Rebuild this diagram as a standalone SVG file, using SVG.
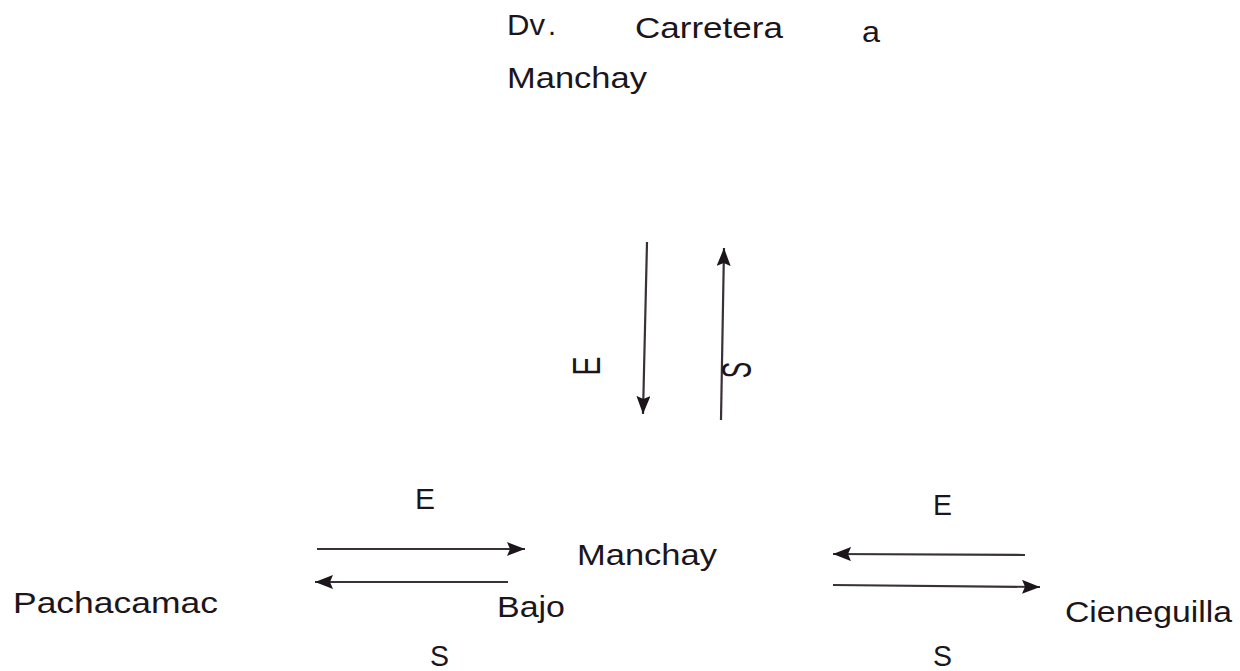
<svg xmlns="http://www.w3.org/2000/svg" width="1240" height="671" viewBox="0 0 1240 671">
<style>
  text { font-family: "Liberation Sans", Arial, sans-serif; font-size: 29px; fill: #1c161c; }
  .ln { stroke: #3a3038; stroke-width: 2.2; fill: none; }
</style>
<defs>
  <marker id="ah" viewBox="0 0 18 14" refX="18" refY="7" markerWidth="18" markerHeight="14" markerUnits="userSpaceOnUse" orient="auto">
    <path d="M0,0 L18,7 L0,14 L3,7 z" fill="#1c161c"/>
  </marker>
</defs>
<rect width="1240" height="671" fill="#ffffff"/>

<g id="node-dv">
  <text x="507" y="35" textLength="38" lengthAdjust="spacingAndGlyphs">Dv</text>
  <text x="548" y="35" font-size="18" fill="#6a6468">.</text>
  <text x="635" y="38" textLength="148" lengthAdjust="spacingAndGlyphs">Carretera</text>
  <text x="862" y="42" textLength="18" lengthAdjust="spacingAndGlyphs">a</text>
  <text x="507" y="88" textLength="140" lengthAdjust="spacingAndGlyphs">Manchay</text>
</g>

<g id="node-manchay-bajo">
  <text x="577" y="565" textLength="140" lengthAdjust="spacingAndGlyphs">Manchay</text>
  <text x="497" y="617" textLength="68" lengthAdjust="spacingAndGlyphs">Bajo</text>
</g>

<g id="node-pachacamac">
  <text x="13" y="613" textLength="205" lengthAdjust="spacingAndGlyphs">Pachacamac</text>
</g>

<g id="node-cieneguilla">
  <text x="1065" y="622" textLength="167" lengthAdjust="spacingAndGlyphs">Cieneguilla</text>
</g>

<g id="connectors">
  <line class="ln" x1="647" y1="242" x2="643" y2="414" marker-end="url(#ah)"/>
  <line class="ln" x1="721" y1="420" x2="724" y2="248" marker-end="url(#ah)"/>
  <line class="ln" x1="317" y1="549" x2="525" y2="549" marker-end="url(#ah)"/>
  <line class="ln" x1="508" y1="582" x2="315" y2="582" marker-end="url(#ah)"/>
  <line class="ln" x1="1025" y1="555" x2="833" y2="554" marker-end="url(#ah)"/>
  <line class="ln" x1="833" y1="585" x2="1040" y2="587" marker-end="url(#ah)"/>
</g>

<g id="labels">
  <text transform="translate(600,366) rotate(-90) scale(1,1.35)" text-anchor="middle">E</text>
  <text transform="translate(751,370) rotate(-90) scale(0.85,1.45)" text-anchor="middle">S</text>
  <text x="415" y="509" textLength="20" lengthAdjust="spacingAndGlyphs">E</text>
  <text x="430" y="666" textLength="19" lengthAdjust="spacingAndGlyphs">S</text>
  <text x="933" y="515" textLength="19" lengthAdjust="spacingAndGlyphs">E</text>
  <text x="933" y="666" textLength="19" lengthAdjust="spacingAndGlyphs">S</text>
</g>
</svg>
